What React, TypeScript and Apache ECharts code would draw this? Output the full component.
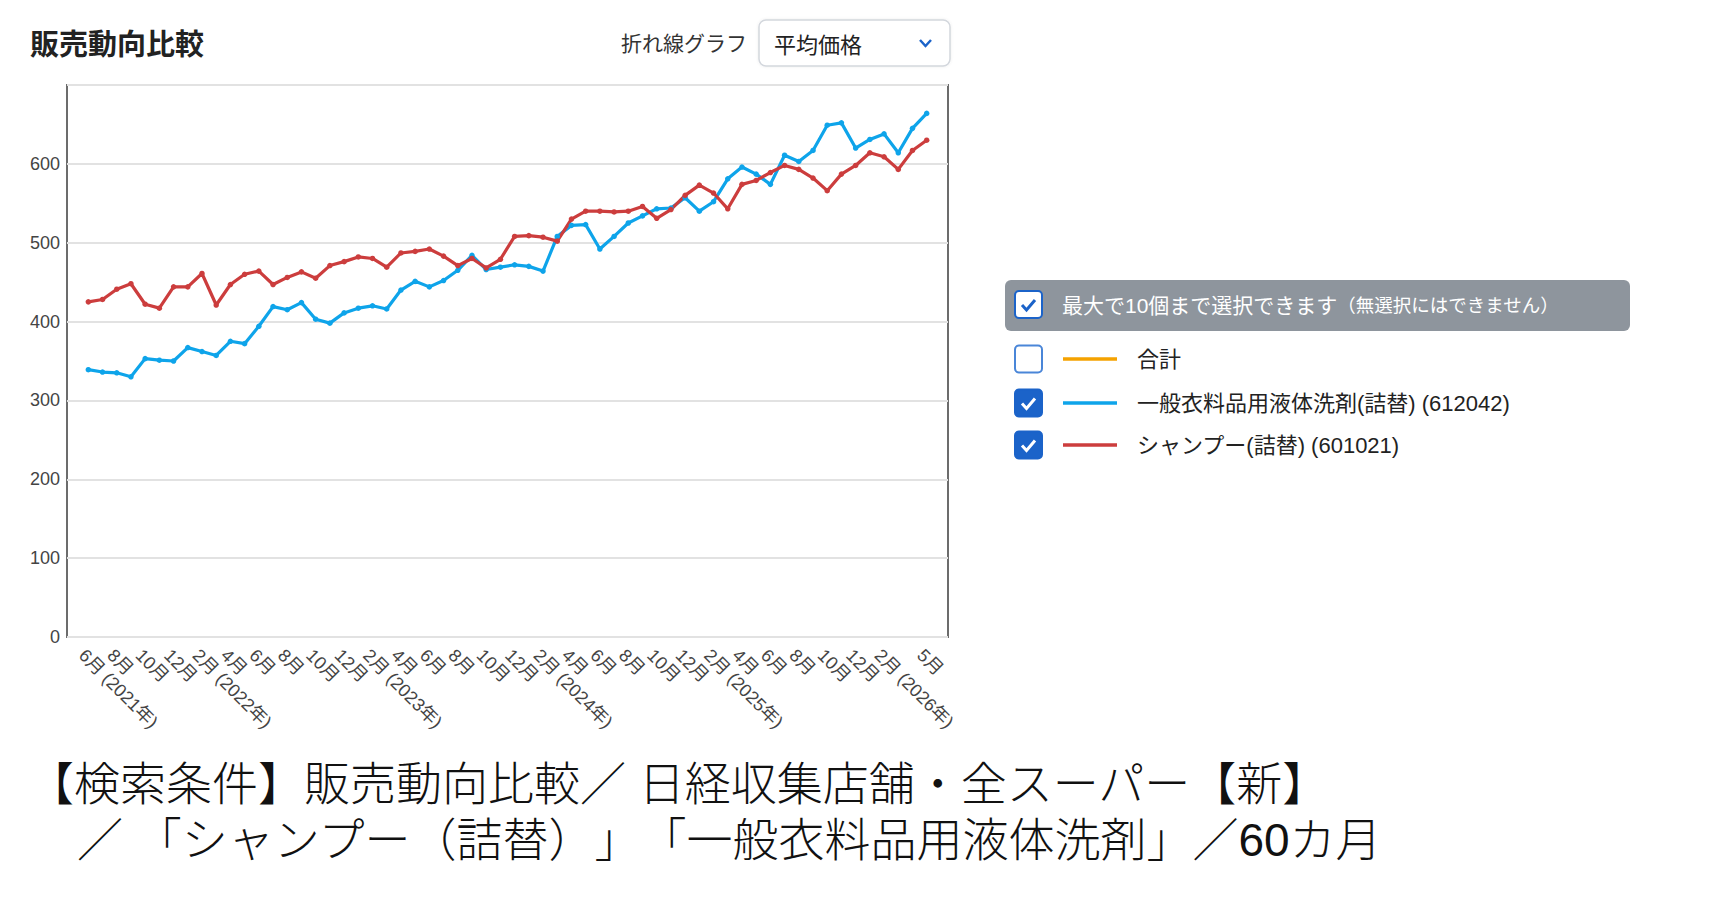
import { useEffect, useRef } from "react";
import * as echarts from "echarts";

// 60 months, 2021/06 .. 2026/05
const months = [
  "2021-06", "2021-07", "2021-08", "2021-09", "2021-10", "2021-11", "2021-12",
  "2022-01", "2022-02", "2022-03", "2022-04", "2022-05", "2022-06", "2022-07", "2022-08", "2022-09", "2022-10", "2022-11", "2022-12",
  "2023-01", "2023-02", "2023-03", "2023-04", "2023-05", "2023-06", "2023-07", "2023-08", "2023-09", "2023-10", "2023-11", "2023-12",
  "2024-01", "2024-02", "2024-03", "2024-04", "2024-05", "2024-06", "2024-07", "2024-08", "2024-09", "2024-10", "2024-11", "2024-12",
  "2025-01", "2025-02", "2025-03", "2025-04", "2025-05", "2025-06", "2025-07", "2025-08", "2025-09", "2025-10", "2025-11", "2025-12",
  "2026-01", "2026-02", "2026-03", "2026-04", "2026-05",
];

// 一般衣料品用液体洗剤(詰替)
const detergent = [
  339, 336, 335, 330, 353, 351, 350, 367, 362, 357,
  375, 372, 394, 419, 415, 424, 403, 398, 411, 417,
  420, 416, 440, 451, 444, 452, 465, 484, 466, 469,
  472, 470, 464, 508, 522, 523, 492, 508, 525, 534,
  543, 544, 557, 540, 552, 581, 596, 587, 574, 611,
  603, 617, 649, 652, 620, 631, 638, 614, 645, 664,
];

// シャンプー(詰替)
const shampoo = [
  425, 428, 441, 448, 422, 417, 444, 444, 461, 421,
  447, 460, 464, 447, 456, 463, 455, 471, 476, 482,
  480, 469, 487, 489, 492, 483, 471, 480, 468, 479,
  508, 509, 507, 502, 530, 540, 540, 539, 540, 546,
  531, 542, 560, 573, 563, 543, 574, 579, 589, 598,
  593, 582, 566, 587, 598, 614, 609, 593, 617, 630,
];

const tickIndex = [0, 2, 4, 6, 8, 10, 12, 14, 16, 18, 20, 22, 24, 26, 28, 30, 32, 34, 36, 38, 40, 42, 44, 46, 48, 50, 52, 54, 56, 59];
const tickLabels = [
  "6月 (2021年)", "8月", "10月", "12月", "2月 (2022年)", "4月", "6月", "8月", "10月", "12月",
  "2月 (2023年)", "4月", "6月", "8月", "10月", "12月", "2月 (2024年)", "4月", "6月", "8月",
  "10月", "12月", "2月 (2025年)", "4月", "6月", "8月", "10月", "12月", "2月 (2026年)", "5月",
];

const legendItems = [
  { name: "合計", color: "#f5a200", checked: false },
  { name: "一般衣料品用液体洗剤(詰替) (612042)", color: "#0ea4ea", checked: true },
  { name: "シャンプー(詰替) (601021)", color: "#cc3d3d", checked: true },
];

const FONT = "Arial, 'Liberation Sans', 'Noto Sans CJK JP', sans-serif";
const JP = "'Noto Sans CJK JP', 'Noto Sans', sans-serif";
// Latin primary font keeps the caption lines' boxes compact; CJK glyphs fall back to Noto
const CAPTION = "'Liberation Sans', 'Noto Sans CJK JP', sans-serif";

function checkbox(x: number, y: number, checked: boolean) {
  return {
    type: "group",
    children: [
      {
        type: "rect",
        shape: { x, y, width: 27, height: 27, r: 4 },
        style: { fill: checked ? "#1b63c9" : "#fff", stroke: checked ? "#1b63c9" : "#4a86d8", lineWidth: 2 },
      },
      checked
        ? {
            type: "polyline",
            shape: { points: [[x + 7, y + 14], [x + 11.5, y + 19], [x + 20, y + 9]] },
            style: { stroke: "#fff", lineWidth: 3, fill: null },
          }
        : { type: "group", children: [] },
    ],
  };
}

export default function App() {
  const ref = useRef<HTMLDivElement>(null);

  useEffect(() => {
    if (!ref.current) return;
    const chart = echarts.init(ref.current, undefined, { renderer: "svg" });

    const rowY = [359, 403, 445];
    const legendGraphics = legendItems.map((it, i) => ({
      type: "group",
      children: [
        checkbox(1015, rowY[i] - 13.5, it.checked),
        {
          type: "line",
          shape: { x1: 1063, y1: rowY[i], x2: 1117, y2: rowY[i] },
          style: { stroke: it.color, lineWidth: 3.5 },
        },
        {
          type: "text",
          x: 1137,
          y: rowY[i],
          style: { text: it.name, fill: "#222", font: `22px ${FONT}`, verticalAlign: "middle" },
        },
      ],
    }));

    chart.setOption({
      animation: false,
      backgroundColor: "#fff",
      grid: {
        left: 67,
        right: 1717 - 948,
        top: 85,
        bottom: 898 - 637,
        show: true,
        borderColor: "#6c6c6c",
        borderWidth: 2,
        backgroundColor: "transparent",
      },
      xAxis: {
        type: "value",
        min: -1.5,
        max: 60.5,
        axisLine: { show: false },
        axisTick: { show: false },
        splitLine: { show: false },
        axisLabel: {
          customValues: tickIndex,
          formatter: (v: number) => tickLabels[tickIndex.indexOf(Math.round(v))] ?? "",
          rotate: -45,
          align: "left",
          verticalAlign: "top",
          margin: 9,
          fontSize: 18,
          color: "#444",
          fontFamily: FONT,
          hideOverlap: false,
        },
      },
      yAxis: {
        type: "value",
        min: 0,
        max: 700,
        interval: 100,
        axisLine: { show: false },
        axisTick: { show: false },
        splitLine: { lineStyle: { color: "#e2e2e2", width: 2 } },
        axisLabel: {
          formatter: (v: number) => (v >= 700 ? "" : String(v)),
          fontSize: 18,
          color: "#444",
          margin: 7,
          fontFamily: FONT,
        },
      },
      series: [
        {
          name: "一般衣料品用液体洗剤(詰替) (612042)",
          type: "line",
          data: months.map((_, i) => [i, detergent[i]]),
          symbol: "circle",
          symbolSize: 5.5,
          lineStyle: { width: 3.2, color: "#0ea4ea" },
          itemStyle: { color: "#0ea4ea" },
        },
        {
          name: "シャンプー(詰替) (601021)",
          type: "line",
          data: months.map((_, i) => [i, shampoo[i]]),
          symbol: "circle",
          symbolSize: 5.5,
          lineStyle: { width: 3.2, color: "#cc3d3d" },
          itemStyle: { color: "#cc3d3d" },
        },
      ],
      graphic: [
        {
          type: "text",
          x: 30,
          y: 42,
          style: { text: "販売動向比較", fill: "#222", font: `bold 29px ${JP}`, verticalAlign: "middle" },
        },
        {
          type: "text",
          x: 621,
          y: 42,
          style: { text: "折れ線グラフ", fill: "#333", font: `21px ${JP}`, verticalAlign: "middle" },
        },
        {
          type: "rect",
          shape: { x: 759, y: 20, width: 191, height: 46, r: 7 },
          style: { fill: "#fff", stroke: "#d3d7dd", lineWidth: 1.5, shadowBlur: 3, shadowColor: "rgba(0,0,0,0.08)" },
        },
        {
          type: "text",
          x: 774,
          y: 43,
          style: { text: "平均価格", fill: "#222", font: `22px ${JP}`, verticalAlign: "middle" },
        },
        {
          type: "polyline",
          shape: { points: [[920, 40], [925.5, 46], [931, 40]] },
          style: { stroke: "#1b63c9", lineWidth: 2.5, fill: null },
        },
        {
          type: "rect",
          shape: { x: 1005, y: 280, width: 625, height: 51, r: 6 },
          style: { fill: "#8e959d" },
        },
        {
          type: "group",
          children: [
            {
              type: "rect",
              shape: { x: 1015, y: 291, width: 27, height: 27, r: 4 },
              style: { fill: "#fff", stroke: "#1b63c9", lineWidth: 2 },
            },
            {
              type: "polyline",
              shape: { points: [[1022, 305], [1026.5, 310], [1035, 300]] },
              style: { stroke: "#1b63c9", lineWidth: 3, fill: null },
            },
          ],
        },
        {
          type: "text",
          x: 1062,
          y: 305,
          style: {
            text: "{a|最大で10個まで選択できます}{b|（無選択にはできません）}",
            verticalAlign: "middle",
            rich: {
              a: { fontSize: 21, fill: "#fff", fontFamily: FONT },
              b: { fontSize: 18.5, fill: "#fff", fontFamily: FONT },
            },
          },
        },
        ...legendGraphics,
        {
          type: "text",
          x: 28,
          y: 784,
          style: {
            text: "【検索条件】販売動向比較／ 日経収集店舗・全スーパー【新】",
            fill: "#111",
            font: `300 46px ${CAPTION}`,
            verticalAlign: "middle",
          },
        },
        {
          type: "text",
          x: 77,
          y: 840,
          style: {
            text: "／ 「シャンプー（詰替）」「一般衣料品用液体洗剤」／60カ月",
            fill: "#111",
            font: `300 46px ${CAPTION}`,
            verticalAlign: "middle",
          },
        },
      ],
    });

    return () => chart.dispose();
  }, []);

  return (
    <div
      ref={ref}
      style={{
        position: "fixed",
        left: 0,
        top: 0,
        width: 1717,
        height: 898,
        // keep full-width punctuation at full width, as in the reference
        ["textSpacingTrim" as any]: "space-all",
      }}
    />
  );
}
